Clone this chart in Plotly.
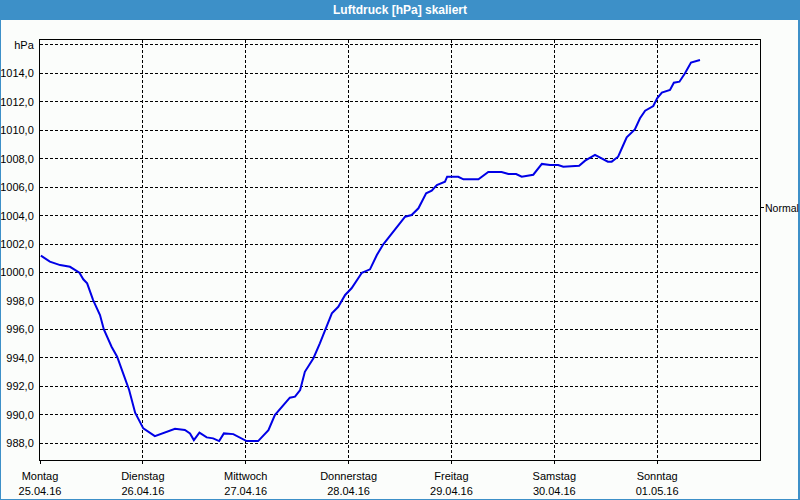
import plotly.graph_objects as go

# --- data ---
hours = [0.2, 2.3, 4.7, 7.0, 9.2, 10.1, 11.0, 12.4, 14.0, 14.9, 16.7, 18.0, 19.4, 20.8, 22.2,
         24.1, 26.8, 29.2, 31.5, 33.8, 35.0, 35.9, 37.2, 38.9, 40.4, 41.8, 42.9, 45.1, 47.4,
         48.2, 50.9, 53.3, 54.8, 56.8, 58.3, 59.5, 60.7, 61.8, 63.8, 65.3, 66.9, 68.1, 69.6,
         71.2, 72.7, 75.1, 77.0, 78.6, 80.1, 82.4, 85.2, 86.7, 88.3, 90.1, 91.4, 92.6, 94.5,
         95.0, 97.6, 98.8, 102.3, 104.6, 107.7, 109.3, 111.1, 112.4, 113.6, 115.1, 117.1,
         119.0, 120.9, 122.1, 125.8, 127.2, 129.5, 131.1, 132.5, 133.4, 134.9, 136.1, 136.9,
         138.8, 140.0, 141.2, 143.1, 144.0, 145.1, 147.0, 147.9, 149.2, 150.5, 151.9, 154.0]
pressure = [1001.19, 1000.77, 1000.53, 1000.41, 999.99, 999.53, 999.25, 998.07, 997.02, 996.01,
            994.79, 994.09, 992.92, 991.75, 990.15, 989.05, 988.51, 988.75, 989.03, 988.94,
            988.70, 988.23, 988.75, 988.42, 988.35, 988.16, 988.70, 988.65, 988.28, 988.16,
            988.16, 988.93, 989.99, 990.69, 991.21, 991.28, 991.75, 993.03, 993.98, 995.03,
            996.32, 997.14, 997.60, 998.43, 998.90, 999.99, 1000.23, 1001.24, 1001.99, 1002.88,
            1003.93, 1004.05, 1004.52, 1005.58, 1005.76, 1006.16, 1006.39, 1006.74, 1006.74,
            1006.56, 1006.56, 1007.07, 1007.07, 1006.93, 1006.93, 1006.74, 1006.79, 1006.88,
            1007.64, 1007.56, 1007.56, 1007.44, 1007.51, 1007.87, 1008.27, 1008.04, 1007.80,
            1007.80, 1008.15, 1008.97, 1009.51, 1010.07, 1010.85, 1011.38, 1011.71, 1012.25,
            1012.65, 1012.84, 1013.35, 1013.42, 1014.01, 1014.76, 1014.95]

day_names = ["Montag", "Dienstag", "Mittwoch", "Donnerstag", "Freitag", "Samstag", "Sonntag"]
day_dates = ["25.04.16", "26.04.16", "27.04.16", "28.04.16", "29.04.16", "30.04.16", "01.05.16"]
day_hours = [0, 24, 48, 72, 96, 120, 144]

y_ticks = [988, 990, 992, 994, 996, 998, 1000, 1002, 1004, 1006, 1008, 1010, 1012, 1014, 1016]
y_labels = ["988,0", "990,0", "992,0", "994,0", "996,0", "998,0", "1000,0", "1002,0", "1004,0",
            "1006,0", "1008,0", "1010,0", "1012,0", "1014,0", "hPa"]
normal_value = 1004.56
normal_label = "Normal"
title_text = "Luftdruck [hPa] skaliert"

# --- figure ---
W, H = 800, 500
ML, MR, MT, MB = 40, 40, 40, 40
PW, PH = W - ML - MR, H - MT - MB
y_range = [986.83, 1016.35]
BAR = "#3d90c8"
FONT = "Liberation Sans"


def px_x(p):
    return (p - ML) / PW


def px_y(p):
    return (H - MB - p) / PH


fig = go.Figure()
fig.add_trace(go.Scatter(x=hours, y=pressure, mode="lines",
                         line=dict(color="#0000e6", width=2), hoverinfo="skip",
                         showlegend=False))
# invisible trace to activate the right axis
fig.add_trace(go.Scatter(x=[hours[0]], y=[pressure[0]], yaxis="y2", mode="lines",
                         line=dict(width=0), showlegend=False, hoverinfo="skip"))

fig.update_layout(
    width=W, height=H,
    margin=dict(l=ML, r=MR, t=MT, b=MB, pad=0, autoexpand=False),
    paper_bgcolor="#fbfdfb", plot_bgcolor="#fbfdfb",
    font=dict(family=FONT, size=11, color="black"),
    xaxis=dict(range=[0, 168], tickvals=day_hours,
               ticktext=[f"{n}<br>{d}" for n, d in zip(day_names, day_dates)],
               showgrid=True, gridcolor="black", gridwidth=1, griddash="3px,2px",
               showline=True, linecolor="black", linewidth=1, mirror=True,
               ticks="outside", ticklen=3, tickcolor="black", zeroline=False,
               ticklabelstandoff=3, automargin=False, fixedrange=True),
    yaxis=dict(range=y_range, tickvals=y_ticks, ticktext=y_labels,
               showgrid=True, gridcolor="black", gridwidth=1, griddash="3px,2px",
               showline=True, linecolor="black", linewidth=1, mirror=True,
               ticks="", ticklabelstandoff=3, zeroline=False, automargin=False,
               fixedrange=True),
    yaxis2=dict(range=y_range, overlaying="y", side="right", tickvals=[normal_value],
                showticklabels=False, showgrid=False, showline=False, zeroline=False,
                ticks="outside", ticklen=3, tickcolor="black", automargin=False,
                fixedrange=True),
    shapes=[
        dict(type="rect", xref="paper", yref="paper", x0=px_x(0), x1=px_x(W),
             y0=px_y(20), y1=px_y(0), fillcolor=BAR, line=dict(width=0), layer="above"),
        dict(type="line", xref="paper", yref="paper", x0=px_x(0.5), x1=px_x(0.5),
             y0=px_y(0), y1=px_y(H), line=dict(color=BAR, width=1)),
        dict(type="line", xref="paper", yref="paper", x0=px_x(W - 1), x1=px_x(W - 1),
             y0=px_y(0), y1=px_y(H), line=dict(color=BAR, width=2)),
        dict(type="line", xref="paper", yref="paper", x0=px_x(0), x1=px_x(W),
             y0=px_y(H - 0.5), y1=px_y(H - 0.5), line=dict(color=BAR, width=1)),
    ],
    annotations=[
        dict(text=f"<b>{title_text}</b>", xref="paper", yref="paper", x=0.5, y=px_y(10),
             xanchor="center", yanchor="middle", showarrow=False,
             font=dict(family=FONT, size=12, color="white")),
        dict(text=normal_label, xref="paper", yref="y", x=px_x(763.5), y=normal_value,
             xanchor="left", yanchor="middle", showarrow=False, borderpad=0,
             font=dict(family=FONT, size=10.5, color="black")),
    ],
)

fig.write_html("out.html")
